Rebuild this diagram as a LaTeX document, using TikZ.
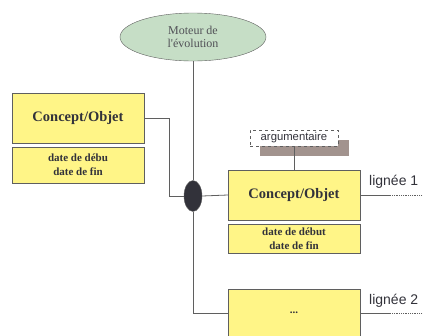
\documentclass[tikz,border=0pt]{standalone}
\usepackage{fontspec}
\setmainfont{Liberation Serif}
\setsansfont{Liberation Sans}
\usetikzlibrary{shapes.geometric,positioning}
\definecolor{boxyellow}{RGB}{255,245,135}
\definecolor{motgreen}{RGB}{198,222,198}
\definecolor{shadowgray}{RGB}{162,147,142}
\definecolor{linegray}{RGB}{95,95,95}
\definecolor{txtgray}{RGB}{50,50,58}

\begin{document}
\begin{tikzpicture}[x=1pt, y=-1pt,
    concept/.style={draw=linegray, fill=boxyellow, minimum width=132pt, inner sep=0pt,
        text=txtgray, align=center, font=\bfseries},
    link/.style={draw=linegray, line width=0.8pt}]
    \useasboundingbox (0,0) rectangle (423,335);
    % Le moteur de l'evolution et le noeud central.
    \node[ellipse, draw=linegray, fill=motgreen, minimum width=146pt, minimum height=48pt,
        inner sep=0pt, align=center, text=txtgray!85, font=\fontsize{12}{13.5}\selectfont]
        (moteur) at (193, 37) {Moteur de\\l\textquotesingle\'evolution};
    \node[ellipse, draw=linegray, fill=txtgray, minimum width=18pt, minimum height=31pt,
        inner sep=0pt] (noeud) at (193, 196) {};
    % Concept de gauche.
    \node[concept, minimum height=50pt, font=\bfseries\fontsize{14.5}{16}\selectfont]
        (concept0) at (78, 118) {Concept/Objet};
    \node[concept, minimum height=36pt, font=\bfseries\fontsize{11}{14}\selectfont]
        (dates0) at (78, 165) {date de d\'ebu\\date de fin};
    % Concept de droite, lignee 1.
    \fill[shadowgray] (260, 140) rectangle (349, 156);
    \node[draw=linegray, dashed, fill=white, minimum width=88pt, minimum height=16pt,
        inner sep=0pt, text=txtgray, font=\sffamily\fontsize{11.3}{13}\selectfont]
        (arg) at (294, 138) {argumentaire};
    \node[concept, minimum height=50pt, font=\bfseries\fontsize{14.5}{16}\selectfont]
        (concept1) at (294, 195) {Concept/Objet};
    \node[concept, minimum height=29pt, font=\bfseries\fontsize{11}{14}\selectfont]
        (dates1) at (294, 238.5) {date de d\'ebut\\date de fin};
    % Lignee 2.
    \node[concept, minimum height=48pt, font=\bfseries\fontsize{11}{14}\selectfont]
        (suite) at (294, 313) {...};
    \node[anchor=west, inner sep=0pt, text=txtgray, font=\sffamily\fontsize{14}{16}\selectfont]
        (lbl1) at (369, 182) {lign\'ee 1};
    \node[anchor=west, inner sep=0pt, text=txtgray, font=\sffamily\fontsize{14}{16}\selectfont]
        (lbl2) at (369, 301) {lign\'ee 2};
    % Les liens.
    \draw[link] (moteur.south) -- (noeud.north);
    \draw[link] (noeud.south) |- (suite.west);
    \draw[link] (concept0.east) -- ++(25, 0) |- (noeud.west);
    \draw[link] (noeud.east) -- (concept1.west);
    \draw[link] (arg.south) -- (concept1.north);
    \draw[link] (concept1.east) -- ++(30, 0) coordinate (fin1);
    \draw[link, densely dotted] (fin1) -- ++(35, 0);
    \draw[link] (suite.east) -- ++(30, 0) coordinate (fin2);
    \draw[link, densely dotted] (fin2) -- ++(35, 0);
\end{tikzpicture}
\end{document}
